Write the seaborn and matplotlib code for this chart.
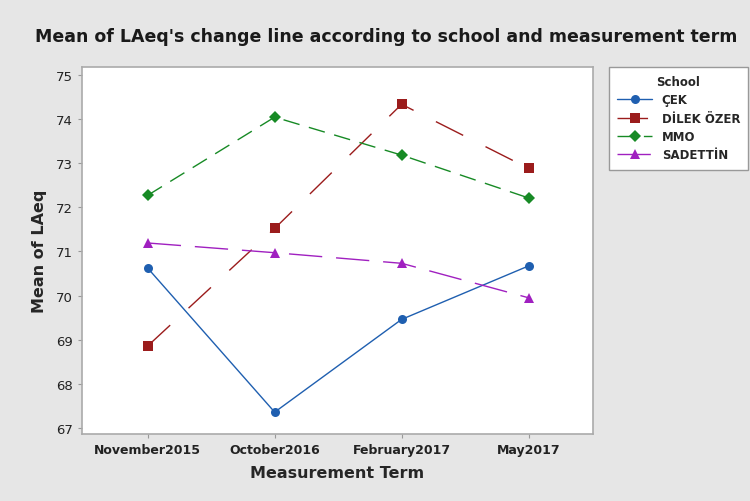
import pandas as pd
import matplotlib.pyplot as plt
import seaborn as sns

terms = ['November2015', 'October2016', 'February2017', 'May2017']
cek = [70.62, 67.36, 69.46, 70.67]
dilek = [68.86, 71.52, 74.33, 72.88]
mmo = [72.27, 74.04, 73.18, 72.21]
sadettin = [71.19, 70.97, 70.73, 69.95]

schools = ['ÇEK', 'DİLEK ÖZER', 'MMO', 'SADETTİN']
rows = []
for name, vals in zip(schools, [cek, dilek, mmo, sadettin]):
    for i, v in enumerate(vals):
        rows.append({'term': i, 'School': name, 'LAeq': v})
df = pd.DataFrame(rows)

sns.set_style('white')
plt.rcParams['font.family'] = ['DejaVu Sans']

fig = plt.figure(figsize=(7.5, 5.02), dpi=100, facecolor='#e6e6e6')
ax = fig.add_axes([0.109, 0.133, 0.682, 0.732])

pal = {'ÇEK': '#1f5fb0', 'DİLEK ÖZER': '#9b1c1c', 'MMO': '#178a25', 'SADETTİN': '#a020c0'}
marks = {'ÇEK': 'o', 'DİLEK ÖZER': 's', 'MMO': 'D', 'SADETTİN': '^'}
dash = {'ÇEK': '', 'DİLEK ÖZER': (22, 18), 'MMO': (12, 7), 'SADETTİN': (24, 10)}

sns.lineplot(data=df, x='term', y='LAeq', hue='School', style='School',
             palette=pal, markers=marks, dashes=dash, markersize=6.5,
             markeredgewidth=0, linewidth=1.0, ax=ax)

ax.set_xlim(-0.52, 3.51)
ax.set_ylim(66.86, 75.18)
ax.set_xticks(range(4))
ax.set_xticklabels(terms, fontsize=9, fontweight='semibold', color='#222222')
ax.set_yticks(range(67, 76))
ax.tick_params(axis='y', labelsize=9.5, colors='#222222')
ax.tick_params(axis='both', length=3, color='#999999', bottom=True, left=True)
for s in ax.spines.values():
    s.set_color('#aaaaaa')
    s.set_linewidth(1.2)

ax.set_xlabel('Measurement Term', fontsize=11.5, fontweight='semibold', labelpad=6)
ax.set_ylabel('Mean of LAeq', fontsize=11.5, fontweight='semibold', labelpad=6)
fig.suptitle("Mean of LAeq's change line according to school and measurement term",
             x=0.515, y=0.945, fontsize=12.5, fontweight='bold', color='#1a1a1a')

leg = ax.legend(loc='upper left', bbox_to_anchor=(1.03, 1.0), borderaxespad=0,
                title='School', frameon=True, fancybox=False, edgecolor='#999999',
                facecolor='white', framealpha=1, prop={'size': 8.5, 'weight': 'semibold'},
                handlelength=3.0, borderpad=0.7, labelspacing=0.45)
leg.get_title().set_fontsize(8.5)
leg.get_title().set_fontweight('semibold')

fig.savefig('out.png', dpi=100, facecolor=fig.get_facecolor())
